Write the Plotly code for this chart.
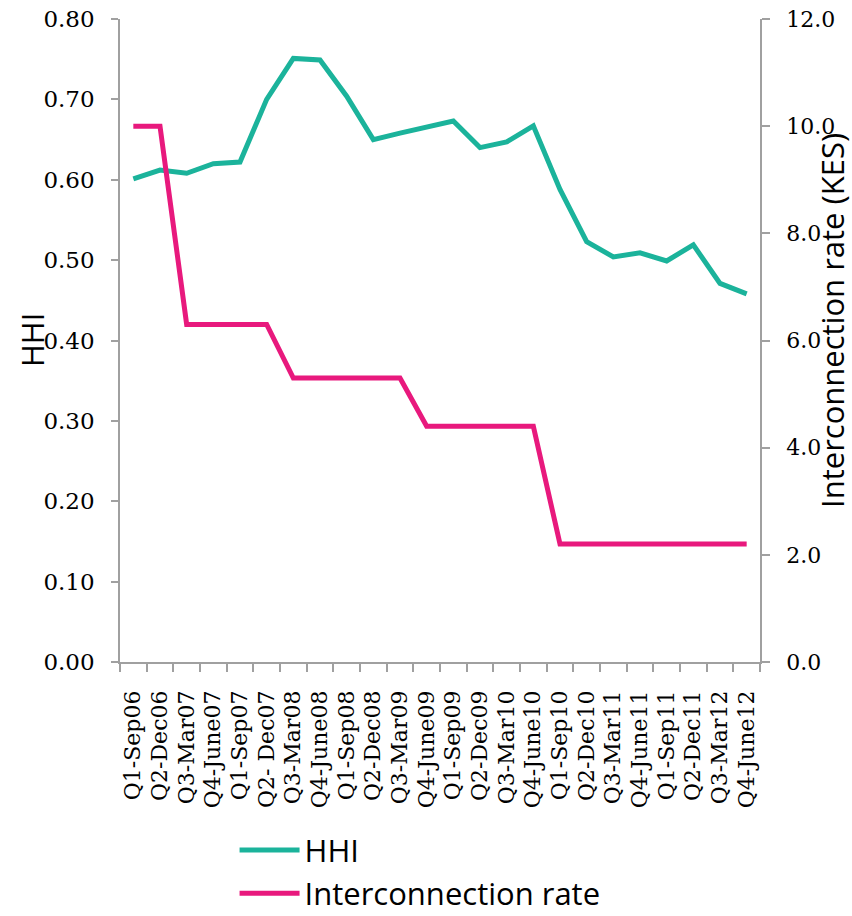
import plotly.graph_objects as go

quarters = ["Q1-Sep06", "Q2-Dec06", "Q3-Mar07", "Q4-June07", "Q1-Sep07", "Q2- Dec07",
            "Q3-Mar08", "Q4-June08", "Q1-Sep08", "Q2-Dec08", "Q3-Mar09", "Q4-June09",
            "Q1-Sep09", "Q2-Dec09", "Q3-Mar10", "Q4-June10", "Q1-Sep10", "Q2-Dec10",
            "Q3-Mar11", "Q4-June11", "Q1-Sep11", "Q2-Dec11", "Q3-Mar12", "Q4-June12"]

hhi = [0.601, 0.612, 0.608, 0.620, 0.622, 0.700, 0.751, 0.749, 0.704, 0.650, 0.658, 0.665,
       0.673, 0.640, 0.647, 0.667, 0.588, 0.523, 0.504, 0.509, 0.499, 0.519, 0.471, 0.458]

interconnection_rate = [10.0, 10.0, 6.3, 6.3, 6.3, 6.3, 5.3, 5.3, 5.3, 5.3, 5.3, 4.4,
                        4.4, 4.4, 4.4, 4.4, 2.2, 2.2, 2.2, 2.2, 2.2, 2.2, 2.2, 2.2]

left_ticks = [0.0, 0.1, 0.2, 0.3, 0.4, 0.5, 0.6, 0.7, 0.8]
right_ticks = [0.0, 2.0, 4.0, 6.0, 8.0, 10.0, 12.0]

TEAL = "#1bb39b"
PINK = "#e8197d"
AXIS = "#a0a0a0"
SERIF = "DejaVu Serif, Georgia, serif"
SANS = "Open Sans, Noto Sans, sans-serif"

fig = go.Figure()
fig.add_trace(go.Scatter(x=quarters, y=hhi, name="HHI", mode="lines",
                         line=dict(color=TEAL, width=5), yaxis="y"))
fig.add_trace(go.Scatter(x=quarters, y=interconnection_rate, name="Interconnection rate",
                         mode="lines", line=dict(color=PINK, width=5), yaxis="y2"))

fig.update_layout(
    width=852, height=916,
    margin=dict(l=120, r=92, t=19, b=254, autoexpand=False),
    paper_bgcolor="white", plot_bgcolor="white",
    showlegend=True,
    legend=dict(x=0.179, xanchor="left", y=-0.251, yanchor="top",
                font=dict(family=SANS, size=31, color="black"),
                bgcolor="rgba(0,0,0,0)", itemwidth=60, tracegroupgap=0),
    xaxis=dict(type="category", tickson="boundaries", ticks="outside", ticklen=8,
               tickcolor=AXIS, tickwidth=1.5, showline=True, linecolor=AXIS, linewidth=1.5,
               showgrid=False, zeroline=False, tickangle=-90, automargin=False,
               tickfont=dict(family=SERIF, size=22, color="black"),
               range=[-0.5, len(quarters) - 0.5], ticklabelstandoff=18),
    yaxis=dict(range=[0, 0.8], tickvals=left_ticks, tickformat=".2f", ticks="outside",
               ticklen=7, tickcolor=AXIS, tickwidth=1.5, showline=True, linecolor=AXIS,
               linewidth=1.5, showgrid=False, zeroline=False, automargin=False,
               tickfont=dict(family=SERIF, size=23, color="black"), ticklabelstandoff=12),
    yaxis2=dict(range=[0, 12], tickvals=right_ticks, tickformat=".1f", overlaying="y",
                side="right", ticks="outside", ticklen=8, tickcolor=AXIS, tickwidth=1.5,
                showline=True, linecolor=AXIS, linewidth=1.5, showgrid=False, zeroline=False,
                automargin=False,
                tickfont=dict(family=SERIF, size=22, color="black"), ticklabelstandoff=12),
    annotations=[
        dict(text="HHI", xref="paper", yref="paper", x=(32 - 120) / 640, y=(662 - 340) / 643,
             xanchor="center", yanchor="middle", textangle=-90, showarrow=False,
             font=dict(family=SANS, size=31, color="black")),
        dict(text="Interconnection rate (KES)", xref="paper", yref="paper",
             x=(832 - 120) / 640, y=(662 - 321) / 643, xanchor="center", yanchor="middle",
             textangle=-90, showarrow=False, font=dict(family=SANS, size=31, color="black")),
    ],
)

fig.write_html("out.html")
